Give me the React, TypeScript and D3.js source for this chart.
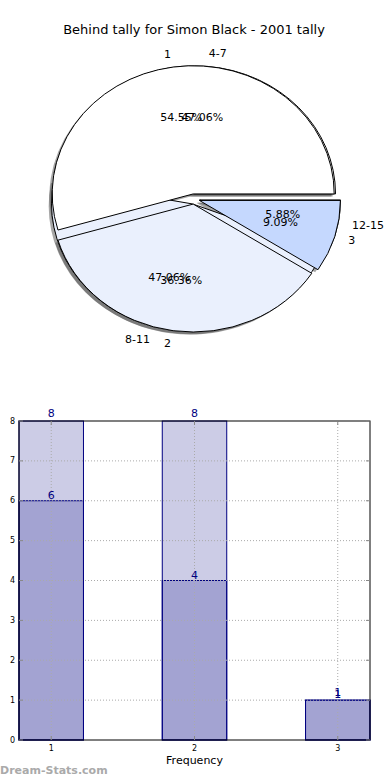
import React from "react";
import * as d3 from "d3";

// pie 1: frequency per category, pie 2: frequency per range
const categories = ["1", "2", "3"];
const ranges = ["4-7", "8-11", "12-15"];
const countsByCategory = [6, 4, 1];
const countsByRange = [8, 8, 1];
const sliceColors = ["#ffffff", "#eaf0fd", "#c5d8fe"];
const yTicks = [0, 1, 2, 3, 4, 5, 6, 7, 8];
const xTicks = [1, 2, 3];

const width = 390;
const height = 780;
const font = "DejaVu Sans, sans-serif";

// pie geometry (matplotlib ellipse pie)
const cx = 194;
const cy = 199;
const rx = 141;
const ry = 128;
const explode = 0.04;

const pieGen = d3
  .pie<number>()
  .sort(null)
  .startAngle(Math.PI / 2)
  .endAngle(Math.PI / 2 - 2 * Math.PI);
const unitArc = d3.arc<d3.PieArcDatum<number>>().innerRadius(0).outerRadius(1);

function slices(values: number[], labels: string[]) {
  const total = d3.sum(values);
  return pieGen(values).map((d, i) => {
    const mid = (d.startAngle + d.endAngle) / 2;
    const ux = Math.sin(mid);
    const uy = -Math.cos(mid);
    const ox = cx + explode * rx * ux;
    const oy = cy + explode * ry * uy;
    return {
      d,
      i,
      ox,
      oy,
      ux,
      uy,
      label: labels[i],
      pct: ((values[i] / total) * 100).toFixed(2) + "%",
    };
  });
}

function PieChart() {
  const pieA = slices(countsByCategory, categories);
  const pieB = slices(countsByRange, ranges);
  const all = [...pieB, ...pieA];
  return (
    <g>
      {all.map((s, k) => (
        <path
          key={"sh" + k}
          d={unitArc(s.d) || ""}
          transform={`translate(${s.ox - 0.02 * rx},${s.oy + 0.02 * ry}) scale(${rx},${ry})`}
          fill="#4d4d4d"
          fillOpacity={0.5}
          stroke="none"
        />
      ))}
      {all.map((s, k) => (
        <path
          key={"w" + k}
          d={unitArc(s.d) || ""}
          transform={`translate(${s.ox},${s.oy}) scale(${rx},${ry})`}
          fill={sliceColors[s.i]}
          stroke="#000"
          strokeWidth={1}
          vectorEffect="non-scaling-stroke"
        />
      ))}
      {all.map((s, k) => (
        <text
          key={"l" + k}
          x={s.ox + 1.1 * rx * s.ux}
          y={s.oy + 1.1 * ry * s.uy}
          textAnchor={s.ux > 0 ? "start" : "end"}
          dominantBaseline="central"
          fontSize={11}
          fontFamily={font}
        >
          {s.label}
        </text>
      ))}
      {all.map((s, k) => (
        <text
          key={"p" + k}
          x={s.ox + 0.6 * rx * s.ux}
          y={s.oy + 0.6 * ry * s.uy}
          textAnchor="middle"
          dominantBaseline="central"
          fontSize={11}
          fontFamily={font}
        >
          {s.pct}
        </text>
      ))}
    </g>
  );
}

function BarChart() {
  const barWidth = 0.45;
  const x = d3.scaleLinear().domain([1 - barWidth / 2, 3 + barWidth / 2]).range([19, 370]);
  const y = d3.scaleLinear().domain([0, 8]).range([740, 421]);
  const [x0, x1] = x.range();
  const [y0, y1] = y.range();
  const navy = "#000080";
  const series = [
    { values: countsByRange, lift: 4 },
    { values: countsByCategory, lift: 2 },
  ];
  return (
    <g>
      {series.map((s, si) =>
        s.values.map((v, i) => (
          <rect
            key={`b${si}-${i}`}
            x={x(xTicks[i] - barWidth / 2)}
            y={y(v)}
            width={x(xTicks[i] + barWidth / 2) - x(xTicks[i] - barWidth / 2)}
            height={y(0) - y(v)}
            fill={navy}
            fillOpacity={0.2}
            stroke={navy}
            strokeWidth={1}
          />
        ))
      )}
      {yTicks.slice(1, -1).map((t) => (
        <line key={"gy" + t} x1={x0} x2={x1} y1={y(t)} y2={y(t)} stroke="#aaa" strokeDasharray="1,2" />
      ))}
      {xTicks.map((t) => (
        <line key={"gx" + t} x1={x(t)} x2={x(t)} y1={y0} y2={y1} stroke="#aaa" strokeDasharray="1,2" />
      ))}
      <rect x={x0} y={y1} width={x1 - x0} height={y0 - y1} fill="none" stroke="#000" strokeWidth={1} />
      {yTicks.map((t) => (
        <g key={"ty" + t}>
          <line x1={x0} x2={x0 + 4} y1={y(t)} y2={y(t)} stroke="#888" />
          <line x1={x1 - 4} x2={x1} y1={y(t)} y2={y(t)} stroke="#888" />
          <text x={x0 - 4} y={y(t)} textAnchor="end" dominantBaseline="central" fontSize={8} fontFamily={font}>
            {t}
          </text>
        </g>
      ))}
      {xTicks.map((t) => (
        <g key={"tx" + t}>
          <line x1={x(t)} x2={x(t)} y1={y0} y2={y0 - 4} stroke="#888" />
          <line x1={x(t)} x2={x(t)} y1={y1} y2={y1 + 4} stroke="#888" />
          <text x={x(t)} y={y0 + 8} textAnchor="middle" dominantBaseline="central" fontSize={8} fontFamily={font}>
            {t}
          </text>
        </g>
      ))}
      {series.map((s, si) =>
        s.values.map((v, i) => (
          <text
            key={`v${si}-${i}`}
            x={x(xTicks[i])}
            y={y(v) - s.lift}
            textAnchor="middle"
            fontSize={11}
            fill={navy}
            fontFamily={font}
          >
            {v}
          </text>
        ))
      )}
      <text x={(x0 + x1) / 2} y={764} textAnchor="middle" fontSize={11} fontFamily={font}>
        Frequency
      </text>
    </g>
  );
}

export default function App() {
  return (
    <svg
      width={width}
      height={height}
      style={{ position: "absolute", left: 0, top: 0, background: "#fff" }}
    >
      <text x={194} y={34} textAnchor="middle" fontSize={13} fontFamily={font}>
        Behind tally for Simon Black - 2001 tally
      </text>
      <PieChart />
      <BarChart />
      <text x={0} y={774} fontSize={11} fontWeight="bold" fill="#aaa" fontFamily={font}>
        Dream-Stats.com
      </text>
    </svg>
  );
}
